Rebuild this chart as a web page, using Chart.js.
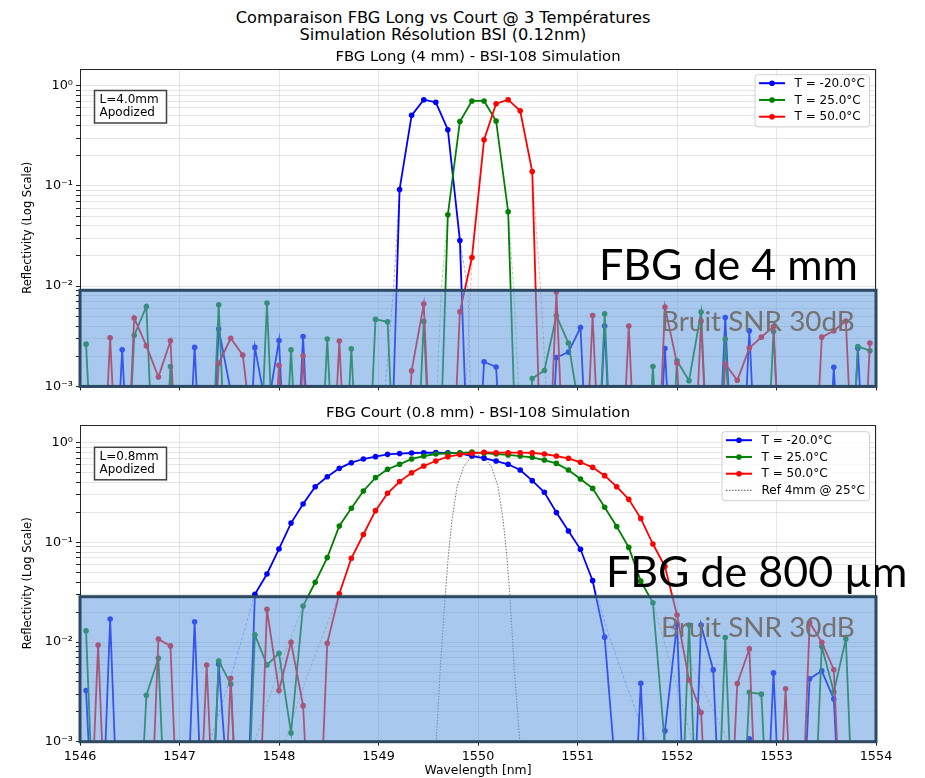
<!DOCTYPE html>
<html>
<head>
<meta charset="utf-8">
<script src="https://cdn.jsdelivr.net/npm/chart.js@4.4.0/dist/chart.umd.min.js"></script>
<style>
  body { margin: 0; background: #fff; width: 925px; height: 778px; overflow: hidden; position: relative; font-family: "DejaVu Sans", sans-serif; }
  .suptitle { position: absolute; left: 0; width: 886px; text-align: center; font-size: 16.2px; color: #000; line-height: 17px; }
  canvas { position: absolute; left: 0; }
</style>
</head>
<body>
<div class="suptitle" style="top:8.5px">Comparaison FBG Long vs Court @ 3 Températures</div>
<div class="suptitle" style="top:25.5px">Simulation Résolution BSI (0.12nm)</div>
<canvas id="longChart" width="925" height="356" style="top:44px"></canvas>
<canvas id="shortChart" width="925" height="378" style="top:400px"></canvas>
<script>
/* DATA */

// below the plot floor (clipped by the axis)
const lo = 1e-5;

const wavelengths = [
  1546.061, 1546.182, 1546.303, 1546.424, 1546.545, 1546.667, 1546.788, 1546.909, 1547.030, 1547.152, 1547.273,
  1547.394, 1547.515, 1547.636, 1547.758, 1547.879, 1548.000, 1548.121, 1548.242, 1548.364, 1548.485, 1548.606,
  1548.727, 1548.848, 1548.970, 1549.091, 1549.212, 1549.333, 1549.455, 1549.576, 1549.697, 1549.818, 1549.939,
  1550.061, 1550.182, 1550.303, 1550.424, 1550.545, 1550.667, 1550.788, 1550.909, 1551.030, 1551.152, 1551.273,
  1551.394, 1551.515, 1551.636, 1551.758, 1551.879, 1552.000, 1552.121, 1552.242, 1552.364, 1552.485, 1552.606,
  1552.727, 1552.848, 1552.970, 1553.091, 1553.212, 1553.333, 1553.455, 1553.576, 1553.697, 1553.818, 1553.939
];

const tempLabels = ["T = -20.0°C", "T = 25.0°C", "T = 50.0°C"];
const tempColors = ["#0000ff", "#008000", "#ff0000"];
const tailColors = ["rgba(0,0,255,0.35)", "rgba(0,128,0,0.35)", "rgba(255,0,0,0.35)"];

// FBG long (4 mm)
const longCold = [
  lo, lo, lo, 0.00232, lo, lo, lo, lo, lo, 0.00245, lo,
  0.00373, 9e-4, lo, 0.00245, 5.5e-4, 0.00287, lo, 0.00315, lo, lo, lo,
  lo, lo, lo, lo, 0.0923, 0.506, 0.725, 0.682, 0.364, 0.0286, lo,
  0.00176, 0.00156, lo, lo, lo, lo, 0.00194, 0.0022, 0.00387, lo, 0.0040,
  lo, lo, lo, lo, 0.00239, lo, lo, lo, lo, 0.00487, lo,
  0.00359, lo, lo, lo, lo, lo, lo, 0.00155, lo, 0.0024, lo
];
const longRoom = [
  0.00264, lo, lo, lo, 0.00323, 0.00627, lo, 0.00158, lo, lo, lo,
  0.00652, lo, lo, lo, 0.00678, lo, 0.00232, lo, lo, 0.00297, lo,
  0.00237, lo, 0.00466, 0.00441, lo, lo, 0.00445, lo, 0.0516, 0.44, 0.705,
  0.705, 0.445, 0.0553, lo, 0.0012, 0.00144, 0.00507, 0.0027, 5e-4, lo, 0.0053,
  lo, lo, lo, 0.00158, lo, 0.0018, 0.00114, 0.00551, lo, 0.00297, lo,
  lo, lo, 0.00353, lo, lo, lo, lo, lo, lo, 0.0025, 0.00227
];
const longHot = [
  lo, lo, 0.00306, lo, 0.00481, 0.00254, 0.00124, 0.00285, lo, lo, lo,
  0.0017, 0.00302, 0.00205, 2e-4, lo, 0.00162, lo, 0.00202, lo, lo, 0.00283,
  lo, lo, lo, lo, lo, 0.00143, 0.00663, lo, lo, 0.00556, 0.0193,
  0.289, 0.661, 0.725, 0.563, 0.139, lo, 0.00873, lo, lo, 0.0051, lo,
  lo, 0.004, lo, lo, 0.00618, 0.0017, lo, 0.00449, lo, 0.00167, 0.00115,
  0.00241, 0.0031, 0.00396, lo, lo, lo, 0.0031, 0.00359, 0.0045, lo, 0.0027
];

// FBG court (0.8 mm)
const shortCold = [
  0.00326, lo, 0.017, lo, lo, lo, lo, lo, lo, 0.016, lo,
  0.006, 1.3e-4, lo, 0.0302, 0.0482, 0.0859, 0.156, 0.243, 0.362, 0.456, 0.553,
  0.63, 0.686, 0.724, 0.764, 0.778, 0.788, 0.793, 0.795, 0.792, 0.782, 0.735,
  0.70, 0.655, 0.607, 0.532, 0.416, 0.318, 0.199, 0.13, 0.0852, 0.0413, 0.0112,
  3.6e-4, lo, 0.00386, lo, 0.00129, 0.0151, lo, 0.0148, 0.00525, lo, lo,
  0.00107, lo, 0.0049, lo, lo, 0.00427, 0.00513, 0.00268, lo, lo, lo
];
const shortRoom = [
  0.013, lo, lo, lo, lo, 0.00292, 0.00687, lo, lo, lo, lo,
  0.00646, 0.00378, lo, 0.0118, 0.00589, 0.0077, 0.00122, 0.023, 0.0398, 0.0703, 0.146,
  0.22, 0.328, 0.446, 0.541, 0.607, 0.687, 0.735, 0.77, 0.78, 0.79, 0.805,
  0.785, 0.77, 0.753, 0.735, 0.714, 0.67, 0.62, 0.532, 0.432, 0.348, 0.225,
  0.144, 0.089, 0.0408, 0.0248, 9e-4, lo, 0.0148, lo, lo, 0.0111, lo,
  0.00313, 0.003, lo, lo, lo, lo, 0.009, 0.00316, 0.0107, lo, lo
];
const shortHot = [
  lo, 0.00935, lo, lo, lo, lo, 0.0107, 0.00914, lo, lo, 0.00589,
  lo, 0.00433, lo, lo, 0.0213, 0.00326, 0.00995, 0.0023, lo, 0.00973, 0.0305,
  0.0692, 0.12, 0.208, 0.311, 0.407, 0.50, 0.584, 0.655, 0.724, 0.758, 0.783,
  0.80, 0.794, 0.794, 0.794, 0.79, 0.77, 0.735, 0.697, 0.636, 0.566, 0.467,
  0.362, 0.27, 0.174, 0.0962, 0.0571, 0.0187, 0.00417, 0.00196, lo, lo, 0.00383,
  0.00853, lo, lo, 0.00339, lo, 0.0157, 0.00995, 0.00528, lo, lo, lo
];

// theoretical (noise free) flanks, dashed: blue L/R, green L/R, red L/R
const longTailX = [
  [1549.212, 1549.15, 1549.06], [1549.818, 1549.90, 1549.925],
  [1549.697, 1549.63, 1549.585], [1550.303, 1550.36, 1550.41],
  [1549.939, 1549.925, 1549.875], [1550.545, 1550.63, 1550.69]
];
const longTailY = [
  [0.0923, 0.009, 0.0008], [0.0286, 0.009, 0.0008],
  [0.0516, 0.009, 0.0008], [0.0553, 0.009, 0.0008],
  [0.0193, 0.009, 0.0008], [0.139, 0.009, 0.0008]
];
const shortTailX = [
  [1547.758, 1547.54, 1547.29], [1551.152, 1551.3, 1551.5, 1551.72],
  [1548.242, 1548.0, 1547.74], [1551.758, 1551.96, 1552.17],
  [1548.606, 1548.31, 1548.04], [1551.879, 1552.21, 1552.54]
];
const shortTailY = [
  [0.0302, 0.0054, 0.0009], [0.0413, 0.013, 0.0035, 0.0009],
  [0.023, 0.0054, 0.0009], [0.0248, 0.005, 0.0009],
  [0.0305, 0.0054, 0.0009], [0.0187, 0.0043, 0.0009]
];

// reference 4 mm grating at 25 °C
const refX = [1549.56, 1549.58, 1549.62, 1549.671, 1549.704, 1549.739, 1549.789, 1549.855, 1549.93, 1549.995,
  1550.06, 1550.136, 1550.202, 1550.252, 1550.287, 1550.32, 1550.365, 1550.42, 1550.44];
const refY = [1e-4, 0.001, 0.0052, 0.03, 0.078, 0.168, 0.36, 0.575, 0.71, 0.75,
  0.71, 0.575, 0.36, 0.168, 0.078, 0.03, 0.0052, 0.001, 1e-4];

// noise floor (SNR 30 dB) band tops
const noiseTopLong = 0.0091;
const noiseTopShort = 0.0285;

const decades = [0.001, 0.01, 0.1, 1];
const decadeLabels = ["10⁻³", "10⁻²", "10⁻¹", "10⁰"];
const minorSteps = [2, 3, 4, 5, 6, 7, 8, 9];

/* HELPERS */

Chart.defaults.font.family = '"DejaVu Sans", sans-serif';
Chart.defaults.color = "#000";

function buildLogTicks(scale) {
  const ticks = [];
  decades.forEach((d) => {
    ticks.push({ value: d });
    minorSteps.forEach((m) => {
      if (d * m <= scale.max) ticks.push({ value: d * m });
    });
  });
  scale.ticks = ticks;
}

const lineSet = (label, color, ys, order) => ({
  label,
  data: wavelengths.map((x, i) => ({ x, y: ys[i] })),
  borderColor: color,
  backgroundColor: color,
  pointBackgroundColor: color,
  borderWidth: 1.8,
  pointRadius: 2.8,
  pointBorderWidth: 0,
  order,
  inLegend: true,
});

const tailSets = (xs, ys) =>
  xs.map((tx, j) => ({
    data: tx.map((x, i) => ({ x, y: ys[j][i] })),
    borderColor: tailColors[Math.floor(j / 2)],
    borderWidth: 1,
    borderDash: [3, 2],
    pointRadius: 0,
    order: 10,
  }));

function fitFont(ctx, family, text, width) {
  ctx.font = `40px ${family}`;
  return (40 * width) / ctx.measureText(text).width;
}

/* PANEL DRAWING: frame, noise band, legend, notes */

const panelPlugin = {
  id: "panel",
  afterDatasetsDraw(chart, args, o) {
    const { ctx, chartArea: a, scales } = chart;
    ctx.save();
    ctx.strokeStyle = "#262626";
    ctx.lineWidth = 1;
    ctx.strokeRect(a.left + 0.5, a.top + 0.5, a.right - a.left - 1, a.bottom - a.top);

    const top = scales.y.getPixelForValue(o.noiseTop);
    const bottom = scales.y.getPixelForValue(scales.y.min);
    ctx.fillStyle = "rgba(96,155,222,0.55)";
    ctx.fillRect(a.left, top, a.right - a.left, bottom - top);
    ctx.strokeStyle = "#2d4861";
    ctx.lineWidth = 3;
    ctx.strokeRect(a.left, top, a.right - a.left, bottom - top);
    ctx.restore();
  },
  afterDraw(chart, args, o) {
    const { ctx, chartArea: a, scales } = chart;
    ctx.save();

    // subplot title
    ctx.font = '14.8px "DejaVu Sans"';
    ctx.fillStyle = "#000";
    ctx.textAlign = "center";
    ctx.textBaseline = "middle";
    ctx.fillText(o.title, (a.left + a.right) / 2, a.top - 11.5);

    // note box
    ctx.font = '12px "DejaVu Sans"';
    ctx.textAlign = "left";
    const nx = a.left + 14.5, ny = a.top + o.noteTop;
    ctx.fillStyle = "#fff";
    ctx.fillRect(nx, ny, 72, 32.5);
    ctx.strokeStyle = "#404040";
    ctx.lineWidth = 1.5;
    ctx.strokeRect(nx, ny, 72, 32.5);
    ctx.fillStyle = "#000";
    o.note.forEach((t, i) => ctx.fillText(t, nx + 5, ny + 9.5 + i * 12.7));

    // legend
    const items = chart.data.datasets.filter((d) => d.inLegend);
    const tw = Math.max(...items.map((d) => ctx.measureText(d.label).width));
    const bw = tw + 44, bh = items.length * 16.75 + 2;
    const bx = a.right - 6.5 - bw, by = a.top + o.legendTop;
    ctx.beginPath();
    ctx.roundRect(bx, by, bw, bh, 3);
    ctx.fillStyle = "rgba(255,255,255,0.85)";
    ctx.fill();
    ctx.strokeStyle = "#d0d0d0";
    ctx.lineWidth = 1;
    ctx.stroke();
    items.forEach((d, i) => {
      const ry = by + 8.5 + i * 16.75;
      ctx.save();
      ctx.strokeStyle = d.borderColor;
      ctx.lineWidth = d.pointRadius ? 2 : 1.2;
      ctx.setLineDash(d.borderDash || []);
      ctx.beginPath();
      ctx.moveTo(bx + 4, ry);
      ctx.lineTo(bx + 30, ry);
      ctx.stroke();
      ctx.restore();
      if (d.pointRadius) {
        ctx.fillStyle = d.borderColor;
        ctx.beginPath();
        ctx.arc(bx + 17, ry, 2.8, 0, Math.PI * 2);
        ctx.fill();
      }
      ctx.fillStyle = "#000";
      ctx.fillText(d.label, bx + 39.5, ry + 0.5);
    });

    // overlaid annotations
    const bandTop = scales.y.getPixelForValue(o.noiseTop);
    const bigSize = fitFont(ctx, "Lato", "FBG de 4 mm", 259);
    ctx.textBaseline = "alphabetic";
    ctx.font = `${bigSize}px Lato`;
    ctx.fillStyle = "#000";
    ctx.fillText(o.big, a.left + o.bigX, bandTop - 10);
    const noiseSize = fitFont(ctx, "Lato", "Bruit SNR 30dB", 194);
    ctx.font = `${noiseSize}px Lato`;
    ctx.fillStyle = "#767171";
    ctx.fillText("Bruit SNR 30dB", a.left + 581, bandTop + 40.5);
    ctx.restore();
  },
};

function chartOptions(cfg) {
  const grid = {
    color: "rgba(176,176,176,0.32)",
    tickColor: "#222",
    tickLength: 4,
    lineWidth: 1,
  };
  return {
    responsive: false,
    animation: false,
    events: [],
    layout: { padding: { left: 0, right: 49, top: 25, bottom: 0 } },
    plugins: {
      legend: { display: false },
      tooltip: { enabled: false },
      panel: cfg,
    },
    scales: {
      x: {
        type: "linear",
        min: 1546,
        max: 1554,
        ticks: { stepSize: 1, display: cfg.showX, font: { size: 12.8 }, padding: 3, maxRotation: 0, callback: (v) => String(v) },
        grid,
        border: { display: false },
        title: { display: cfg.showX, text: "Wavelength [nm]", font: { size: 12.4 }, padding: { top: 0, bottom: 0 } },
        afterFit: (s) => { s.height = cfg.xHeight; },
      },
      y: {
        type: "logarithmic",
        min: 0.001,
        max: cfg.yMax,
        afterBuildTicks: buildLogTicks,
        ticks: {
          autoSkip: false,
          font: { size: 12.8 },
          padding: 3,
          callback: (v) => { const i = decades.indexOf(v); return i < 0 ? "" : decadeLabels[i]; },
        },
        grid,
        border: { display: false },
        title: { display: true, text: "Reflectivity (Log Scale)", font: { size: 11.5 }, padding: { top: 21.5, bottom: 0 } },
        afterFit: (s) => { s.width = 80; },
      },
    },
  };
}

/* CHARTS */

new Chart(document.getElementById("longChart"), {
  type: "line",
  data: {
    datasets: [
      lineSet(tempLabels[0], tempColors[0], longCold, 3),
      lineSet(tempLabels[1], tempColors[1], longRoom, 2),
      lineSet(tempLabels[2], tempColors[2], longHot, 1),
      ...tailSets(longTailX, longTailY),
    ],
  },
  options: chartOptions({
    title: "FBG Long (4 mm) - BSI-108 Simulation",
    note: ["L=4.0mm", "Apodized"],
    noteTop: 21.5,
    legendTop: 5.7,
    noiseTop: noiseTopLong,
    big: "FBG de 4 mm",
    bigX: 519,
    yMax: 1.468,
    showX: false,
    xHeight: 13.6,
  }),
  plugins: [panelPlugin],
});

new Chart(document.getElementById("shortChart"), {
  type: "line",
  data: {
    datasets: [
      lineSet(tempLabels[0], tempColors[0], shortCold, 3),
      lineSet(tempLabels[1], tempColors[1], shortRoom, 2),
      lineSet(tempLabels[2], tempColors[2], shortHot, 1),
      {
        label: "Ref 4mm @ 25°C",
        data: refX.map((x, i) => ({ x, y: refY[i] })),
        borderColor: "rgba(70,70,70,0.75)",
        borderWidth: 1,
        borderDash: [1.5, 1.5],
        pointRadius: 0,
        order: 0,
        inLegend: true,
      },
      ...tailSets(shortTailX, shortTailY),
    ],
  },
  options: chartOptions({
    title: "FBG Court (0.8 mm) - BSI-108 Simulation",
    note: ["L=0.8mm", "Apodized"],
    noteTop: 22.3,
    legendTop: 6.7,
    noiseTop: noiseTopShort,
    big: "FBG de 800 µm",
    bigX: 526,
    yMax: 1.505,
    showX: true,
    xHeight: 36.3,
  }),
  plugins: [panelPlugin],
});
</script>
</body>
</html>
